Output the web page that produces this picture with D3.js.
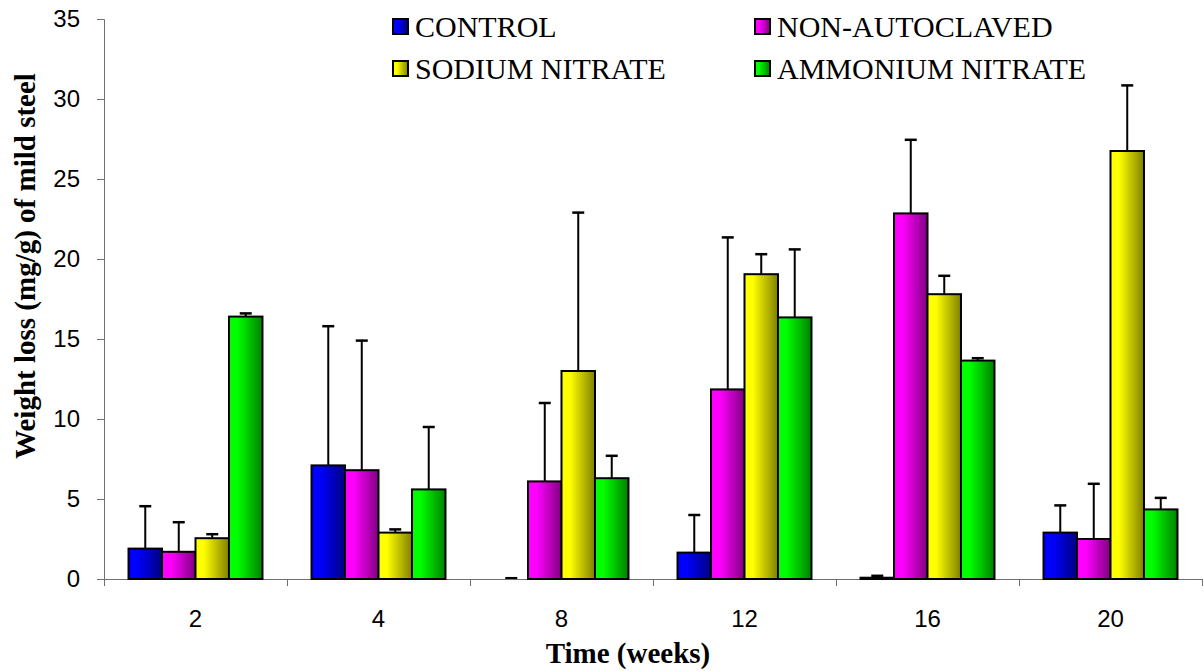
<!DOCTYPE html>
<html>
<head>
<meta charset="utf-8">
<script src="https://cdn.jsdelivr.net/npm/d3@7"></script>
<style>
  body { margin: 0; background: #fff; }
  svg { display: block; }
</style>
</head>
<body>
<div id="chart"></div>
<script>
// data
const weeks = ["2", "4", "8", "12", "16", "20"];
const seriesNames = ["CONTROL", "NON-AUTOCLAVED", "SODIUM NITRATE", "AMMONIUM NITRATE"];
const control = [1.9, 7.1, 0.0, 1.65, 0.08, 2.9];
const controlErr = [2.65, 8.7, 0.05, 2.35, 0.12, 1.7];
const nonAutoclaved = [1.7, 6.8, 6.1, 11.85, 22.85, 2.5];
const nonAutoclavedErr = [1.85, 8.1, 4.9, 9.5, 4.6, 3.45];
const sodiumNitrate = [2.55, 2.9, 13.0, 19.05, 17.8, 26.75];
const sodiumNitrateErr = [0.25, 0.2, 9.9, 1.25, 1.15, 4.1];
const ammoniumNitrate = [16.4, 5.6, 6.3, 16.35, 13.65, 4.35];
const ammoniumNitrateErr = [0.2, 3.9, 1.4, 4.25, 0.15, 0.72];
const yTicks = [0, 5, 10, 15, 20, 25, 30, 35];

const values = [control, nonAutoclaved, sodiumNitrate, ammoniumNitrate];
const errors = [controlErr, nonAutoclavedErr, sodiumNitrateErr, ammoniumNitrateErr];
const lightColors = ["#0000ff", "#ff00ff", "#ffff00", "#00ff00"];
const darkColors = ["#000080", "#800080", "#808000", "#008000"];

const width = 1203, height = 671;
const margin = { top: 19, right: 1, bottom: 92, left: 104 };
const axisColor = "#707070";
const serif = "'Times New Roman', 'Liberation Serif', serif";
const sans = "Arial, 'Liberation Sans', sans-serif";

const svg = d3.select("#chart").append("svg")
  .attr("width", width)
  .attr("height", height);

// gradients for bars
const defs = svg.append("defs");
lightColors.forEach((c, i) => {
  const g = defs.append("linearGradient")
    .attr("id", "grad" + i)
    .attr("x1", "0%").attr("x2", "100%").attr("y1", "0%").attr("y2", "0%");
  g.append("stop").attr("offset", "0%").attr("stop-color", c);
  g.append("stop").attr("offset", "25%").attr("stop-color", c);
  g.append("stop").attr("offset", "100%").attr("stop-color", darkColors[i]);
});

const x = d3.scaleBand()
  .domain(weeks)
  .range([margin.left, width - margin.right])
  .paddingInner(0).paddingOuter(0);

const xInner = d3.scaleBand()
  .domain(d3.range(seriesNames.length))
  .range([x.bandwidth() * 0.134, x.bandwidth() * 0.866]);

const y = d3.scaleLinear()
  .domain([0, 35])
  .range([height - margin.bottom, margin.top]);

// flatten data for bars
const rows = [];
weeks.forEach((w, wi) => {
  seriesNames.forEach((s, si) => {
    rows.push({ week: w, series: si, value: values[si][wi], err: errors[si][wi] });
  });
});

// error bars (drawn first so bars cover the lower part)
const errG = svg.append("g");
const capW = 12;
rows.forEach(d => {
  const cx = x(d.week) + xInner(d.series) + xInner.bandwidth() / 2;
  errG.append("line")
    .attr("x1", cx).attr("x2", cx)
    .attr("y1", y(d.value)).attr("y2", y(d.value + d.err))
    .attr("stroke", "#000").attr("stroke-width", 2);
  errG.append("line")
    .attr("x1", cx - capW / 2).attr("x2", cx + capW / 2)
    .attr("y1", y(d.value + d.err)).attr("y2", y(d.value + d.err))
    .attr("stroke", "#000").attr("stroke-width", 2.5);
});

// y axis
const yAxis = svg.append("g")
  .attr("transform", `translate(${margin.left},0)`)
  .call(d3.axisLeft(y).tickValues(yTicks).tickSize(7).tickPadding(17));
yAxis.selectAll("text")
  .attr("font-family", sans)
  .attr("font-size", "24px")
  .attr("fill", "#000");
yAxis.select(".domain").attr("stroke", axisColor);
yAxis.selectAll(".tick line").attr("stroke", axisColor);

// x axis: line + boundary ticks + centered labels
const xAxisG = svg.append("g")
  .attr("transform", `translate(0,${y(0)})`);
xAxisG.append("line")
  .attr("x1", margin.left).attr("x2", width - margin.right)
  .attr("y1", 0.5).attr("y2", 0.5)
  .attr("stroke", axisColor);
const bounds = weeks.map(w => x(w)).concat([x(weeks[weeks.length - 1]) + x.bandwidth()]);
xAxisG.selectAll("line.tick")
  .data(bounds)
  .enter().append("line")
  .attr("class", "tick")
  .attr("x1", d => Math.round(d) + 0.5).attr("x2", d => Math.round(d) + 0.5)
  .attr("y1", 0).attr("y2", 7)
  .attr("stroke", axisColor);
xAxisG.selectAll("text")
  .data(weeks)
  .enter().append("text")
  .attr("x", d => x(d) + x.bandwidth() / 2)
  .attr("y", 48)
  .attr("text-anchor", "middle")
  .attr("font-family", sans)
  .attr("font-size", "24px")
  .text(d => d);

// bars
svg.append("g").selectAll("rect")
  .data(rows.filter(d => d.value > 0))
  .enter()
  .append("rect")
  .attr("x", d => x(d.week) + xInner(d.series))
  .attr("y", d => y(d.value))
  .attr("width", xInner.bandwidth())
  .attr("height", d => y(0) - y(d.value))
  .attr("fill", d => `url(#grad${d.series})`)
  .attr("stroke", "#000")
  .attr("stroke-width", 2);

// axis titles
svg.append("text")
  .attr("x", 628)
  .attr("y", 663)
  .attr("text-anchor", "middle")
  .attr("font-family", serif)
  .attr("font-weight", "bold")
  .attr("font-size", "29px")
  .text("Time (weeks)");

svg.append("text")
  .attr("transform", "translate(35,266) rotate(-90)")
  .attr("text-anchor", "middle")
  .attr("font-family", serif)
  .attr("font-weight", "bold")
  .attr("font-size", "29px")
  .text("Weight loss (mg/g) of mild steel");

// legend
const legendX = [393, 755];
const legendBase = [37, 79];
const legend = svg.append("g");
seriesNames.forEach((s, i) => {
  const lx = legendX[i % 2], by = legendBase[Math.floor(i / 2)];
  legend.append("rect")
    .attr("x", lx).attr("y", by - 18)
    .attr("width", 15).attr("height", 15)
    .attr("fill", `url(#grad${i})`)
    .attr("stroke", "#000")
    .attr("stroke-width", 2);
  legend.append("text")
    .attr("x", lx + 22)
    .attr("y", by)
    .attr("font-family", serif)
    .attr("font-size", "30px")
    .text(s);
});
</script>
</body>
</html>
